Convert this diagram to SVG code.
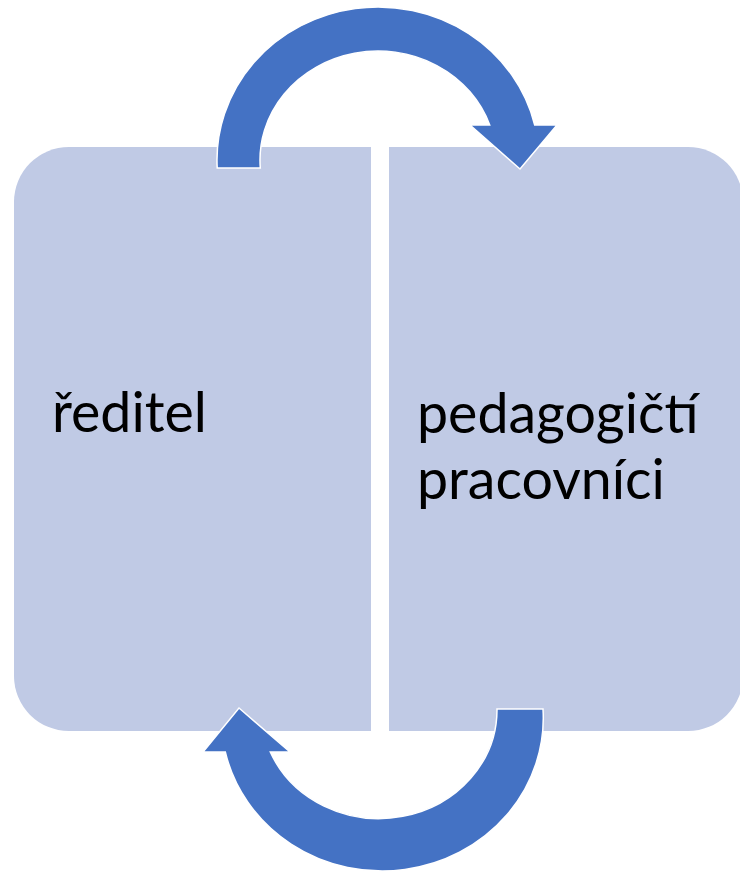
<svg xmlns="http://www.w3.org/2000/svg" width="740" height="872" viewBox="0 0 740 872">
<style>
.box{fill:#C0CAE5;stroke:none}
.arrow{fill:#4472C4;stroke:#FFFFFF;stroke-width:1.5;stroke-linejoin:miter}
.lbl{font-family:Lato,"Noto Sans","DejaVu Sans",sans-serif;font-size:55.5px;fill:#000000}
</style>
<rect width="740" height="872" fill="#FFFFFF"/>
<g id="node-reditel">
<path class="box" d="M371 147 L69 147 A55 55 0 0 0 14 202 L14 676 A55 55 0 0 0 69 731 L371 731 Z"/>
<text class="lbl" x="52" y="432">ředitel</text>
</g>
<g id="node-pedagogicti">
<path class="box" d="M389 147 L688 147 A55 55 0 0 1 743 202 L743 676 A55 55 0 0 1 688 731 L389 731 Z"/>
<text class="lbl" x="417" y="433">pedagogičtí</text>
<text class="lbl" x="417" y="499">pracovníci</text>
</g>
<g id="connectors">
<path class="arrow" d="M217.2 168 A161 153 0 0 1 534.7 125 L557 125 L520 169 L470 125 L489.7 125 A118 109 0 0 0 260.3 168 Z"/>
<path class="arrow" d="M543 709 L497 709 A118 109 0 0 1 270.3 752 L290 752 L239 708 L203 752 L225.3 752 A161 153 0 0 0 543 709 Z"/>
</g>
</svg>
